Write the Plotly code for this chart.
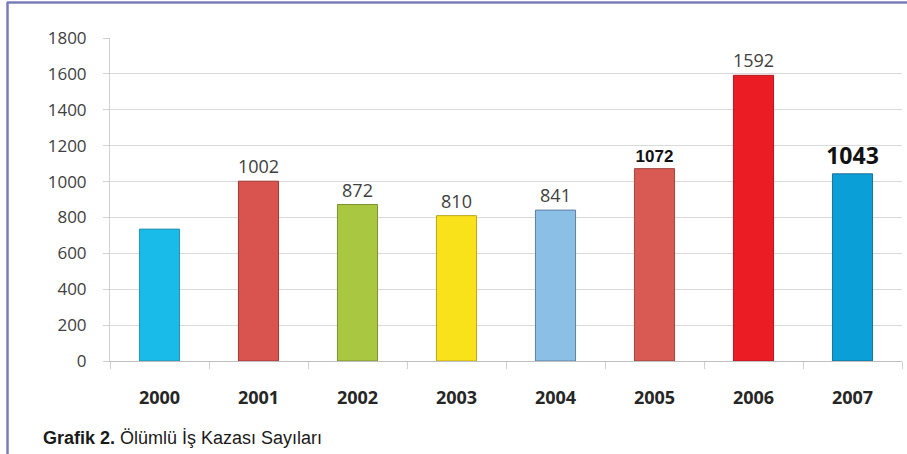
import plotly.graph_objects as go

years = ["2000", "2001", "2002", "2003", "2004", "2005", "2006", "2007"]
deaths = [735, 1002, 872, 810, 841, 1072, 1592, 1043]
labels = ["", "1002", "872", "810", "841", "<b>1072</b>", "1592", "<b>1043</b>"]
label_colors = ["#404040", "#404040", "#404040", "#404040", "#404040", "#111111", "#404040", "#111111"]
label_sizes = [18, 18, 18, 18, 18, 17, 18, 23]
label_fonts = ["Open Sans", "Open Sans", "Open Sans", "Open Sans", "Open Sans",
               "Liberation Sans", "Open Sans", "Open Sans"]
bar_colors = ["#19BCE8", "#D9534F", "#A9C741", "#F9E21A", "#8CBFE6", "#D85A52", "#EC1C24", "#0A9FD6"]
bar_lines = ["#2A8FB0", "#9C3A36", "#7C8F30", "#B8A520", "#5F7F9F", "#A04440", "#B01820", "#1A6F96"]
y_ticks = [0, 200, 400, 600, 800, 1000, 1200, 1400, 1600, 1800]
caption_bold = "Grafik 2."
caption_rest = "Ölümlü İş Kazası Sayıları"

fig = go.Figure(
    go.Bar(
        x=years,
        y=deaths,
        text=labels,
        textposition="outside",
        constraintext="none",
        cliponaxis=False,
        textfont=dict(color=label_colors, size=label_sizes, family=label_fonts),
        marker=dict(color=bar_colors, line=dict(color=bar_lines, width=1)),
        width=0.405,
    )
)

W, H = 907, 454
ml, mr, mt, mb = 110, 5, 38, 93
pw, ph = W - ml - mr, H - mt - mb

def px_x(p):
    return (p - ml) / pw

def px_y(p):
    return 1 - (p - mt) / ph

border = "#7C7CBA"
fig.add_shape(type="line", xref="paper", yref="paper",
              x0=px_x(7), x1=px_x(907), y0=px_y(2.5), y1=px_y(2.5),
              line=dict(color=border, width=2.5))
fig.add_shape(type="line", xref="paper", yref="paper",
              x0=px_x(7.5), x1=px_x(7.5), y0=px_y(2), y1=px_y(454),
              line=dict(color=border, width=2.5))

fig.add_annotation(
    xref="paper", yref="paper", x=px_x(41), y=px_y(438),
    xanchor="left", yanchor="middle", showarrow=False,
    text=f"<b>{caption_bold}</b> {caption_rest}",
    font=dict(family="Liberation Sans Narrow, Arial Narrow, Liberation Sans", size=18, color="#1a1a1a"),
)

fig.update_layout(
    width=W, height=H,
    margin=dict(l=ml, r=mr, t=mt, b=mb),
    paper_bgcolor="white", plot_bgcolor="white",
    showlegend=False,
    xaxis=dict(
        type="category",
        showline=True, linecolor="#BFBFBF", linewidth=1,
        ticks="outside", tickson="boundaries", ticklen=7, tickcolor="#D0D0D0",
        showgrid=False,
        tickfont=dict(family="Open Sans", size=18, color="#262626", weight="bold"),
        ticklabelstandoff=20,
    ),
    yaxis=dict(
        range=[0, 1800],
        tickvals=y_ticks,
        showline=True, linecolor="#D0D0D0", linewidth=1,
        ticks="outside", ticklen=6, tickcolor="#D0D0D0",
        showgrid=True, gridcolor="#D9D9D9", gridwidth=1,
        zeroline=False,
        tickfont=dict(family="Open Sans", size=17, color="#404040"),
        ticklabelstandoff=13,
    ),
)

fig.write_html(
    "out.html",
    config={"displayModeBar": False},
    post_script="document.body.style.margin='0';document.body.style.overflow='hidden';",
)
